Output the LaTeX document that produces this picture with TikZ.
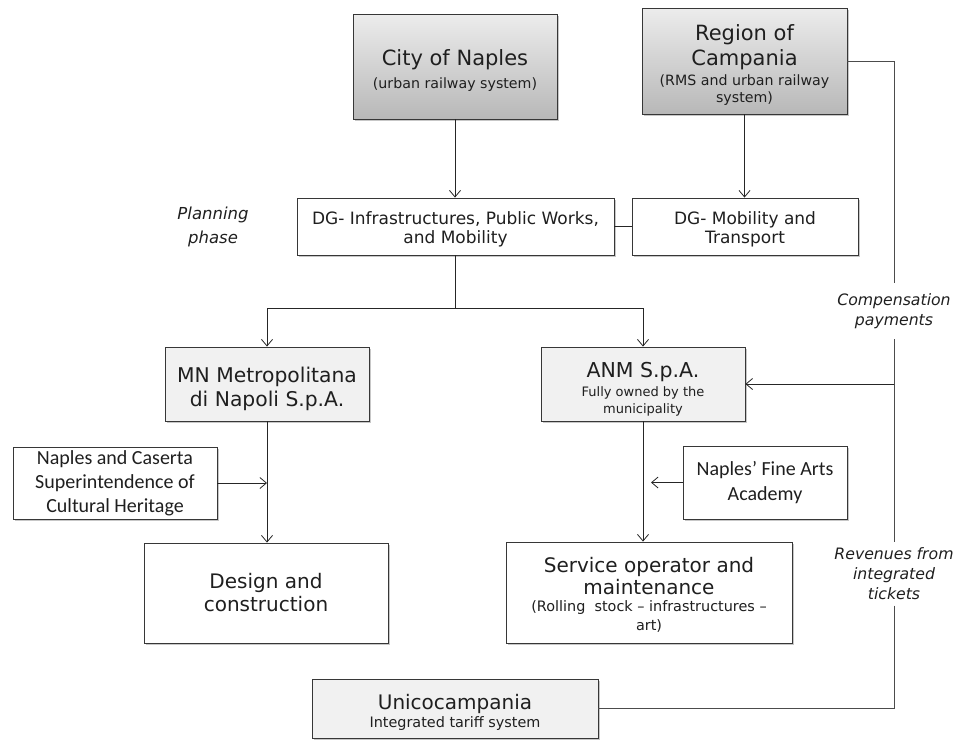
\documentclass[tikz,border=0pt]{standalone}
\usepackage{fontspec}
\setmainfont{DejaVu Sans}
\newfontfamily\calfont{Carlito}
\usetikzlibrary{arrows.meta,shadows,calc}
\definecolor{boxgray}{RGB}{241,241,241}
\definecolor{linegray}{RGB}{55,55,55}
\definecolor{gtop}{RGB}{236,236,236}
\definecolor{gbot}{RGB}{184,184,184}
\newcommand{\fbigA}{\fontsize{21}{25}\selectfont}
\newcommand{\fbigB}{\fontsize{20}{23}\selectfont}
\newcommand{\fsmA}{\fontsize{14.2}{17}\selectfont}
\newcommand{\fsmB}{\fontsize{13}{18}\selectfont}
\newcommand{\fsmC}{\fontsize{14.4}{18}\selectfont}
\newcommand{\topstrut}[1]{\rule{0pt}{#1}}
\begin{document}
\begin{tikzpicture}[x=1pt,y=-1pt,
  box/.style={draw=linegray, line width=0.9pt, align=center, inner sep=0pt, text=black!88,
    drop shadow={shadow xshift=1.6pt, shadow yshift=-1.6pt, opacity=0.22, fill=black}},
  wbox/.style={box, fill=white},
  lbox/.style={box, fill=boxgray},
  gbox/.style={box, top color=gtop, bottom color=gbot},
  lbl/.style={align=center, inner sep=0pt, font=\itshape\fontsize{15.7}{20}\selectfont, text=black!88},
  ln/.style={draw=black!85, line width=0.8pt},
  cl/.style={draw=black!70, line width=0.9pt},
  arr/.style={ln, -{Straight Barb[length=6.5pt,width=11pt]}}
  ]
\useasboundingbox (0,0) rectangle (957,740);
% boxes
\node[gbox, minimum width=204pt, minimum height=105pt] (city) at (455,66.5)
  {\fbigA\topstrut{24pt}City of Naples\\[6pt]\fsmA (urban railway system)};
\node[gbox, minimum width=205pt, minimum height=106pt] (region) at (744.5,61)
  {\fbigA\topstrut{24pt}Region of\\[3pt]\fbigA Campania\\[4pt]\fsmA (RMS and urban railway\\[2pt]\fsmA system)};
\node[wbox, minimum width=317pt, minimum height=57pt, font=\fontsize{17}{19}\selectfont] (dgi) at (455.5,226.5)
  {\topstrut{19pt}DG- Infrastructures, Public Works,\\and Mobility};
\node[wbox, minimum width=226pt, minimum height=57pt, font=\fontsize{17}{19}\selectfont] (dgm) at (745,226.5)
  {\topstrut{19pt}DG- Mobility and\\Transport};
\node[lbl, font=\itshape\fontsize{16.5}{20}\selectfont] (plan) at (213,227) {Planning\\[4pt]phase};
\node[lbox, minimum width=204pt, minimum height=74pt, font=\fontsize{20.3}{24}\selectfont] (mn) at (267,384)
  {\topstrut{24.5pt}MN Metropolitana\\di Napoli S.p.A.};
\node[lbox, minimum width=204pt, minimum height=74pt] (anm) at (643,384)
  {\fontsize{20.5}{22}\selectfont\topstrut{25.5pt}ANM S.p.A.\\[4pt]\fsmB Fully owned by the\\[4pt]\fsmB municipality};
\node[wbox, minimum width=204pt, minimum height=72pt, font=\calfont\fontsize{20}{24}\selectfont] (nc) at (115,483)
  {Naples and Caserta\\Superintendence of\\Cultural Heritage};
\node[wbox, minimum width=164pt, minimum height=73pt, font=\calfont\fontsize{20}{25}\selectfont] (fa) at (765,482.5)
  {Naples’ Fine Arts\\Academy};
\node[wbox, minimum width=244pt, minimum height=100pt, font=\fbigB] (des) at (266,593)
  {Design and\\construction};
\node[wbox, minimum width=286pt, minimum height=101pt] (svc) at (649,592.5)
  {\fbigB\topstrut{20pt}Service operator and\\[2pt]\fbigB maintenance\\[5pt]\fsmC (Rolling\ \ stock – infrastructures –\\[4pt]\fsmC art)};
\node[lbox, minimum width=286pt, minimum height=59pt] (uni) at (455,708.5)
  {\fbigB\topstrut{23pt}Unicocampania\\[1pt]\fsmC Integrated tariff system};
% side labels
\node[lbl, minimum height=56pt] (comp) at (894,311) {Compensation\\payments};
\node[lbl, minimum height=63pt] (rev) at (894,574) {Revenues from\\integrated\\tickets};
% connectors
\draw[arr] (city.south) -- (city.south |- dgi.north);
\draw[arr] (region.south) -- (region.south |- dgm.north);
\draw[ln] (dgi.east) -- (dgm.west);
\coordinate (br) at ($(dgi.south)+(0,53)$);
\draw[ln] (dgi.south) -- (br);
\draw[arr] (br) -| (mn.north);
\draw[arr] (br) -| (anm.north);
\draw[arr] (mn.south) -- (mn.south |- des.north);
\draw[arr] (nc.east) -- (nc.east -| mn.south);
\draw[arr] (anm.south) -- (anm.south |- svc.north);
\draw[arr, shorten >=8pt] (fa.west) -- (fa.west -| anm.south);
\draw[cl] (region.east) -| (comp.north);
\draw[cl] (comp.south) -- (rev.north);
\coordinate (cj) at (comp.south |- anm.east);
\draw[arr] (cj) -- (anm.east);
\draw[cl] (rev.south) |- (uni.east);
\end{tikzpicture}
\end{document}
